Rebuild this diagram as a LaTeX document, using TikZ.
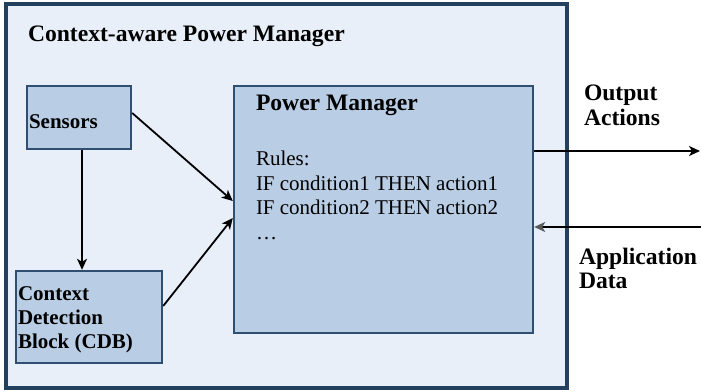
\documentclass[tikz,border=0pt]{standalone}
\usepackage{fontspec}
\setmainfont{Liberation Serif}
\usetikzlibrary{arrows.meta,calc}

\definecolor{frameblue}{HTML}{24405F}
\definecolor{panelbg}{HTML}{E8EFF8}
\definecolor{boxfill}{HTML}{B9CDE5}
\definecolor{boxline}{HTML}{2E4E72}
\definecolor{tipgray}{HTML}{5A5A5A}

\tikzset{
  block/.style={draw=boxline, fill=boxfill, line width=2.4pt, inner sep=0pt, rectangle},
  txt/.style={anchor=base west, inner sep=0pt, outer sep=0pt},
  bigbold/.style={font=\fontsize{23.6}{26}\selectfont\bfseries},
  smallbold/.style={font=\fontsize{21}{24}\selectfont\bfseries},
  plain/.style={font=\fontsize{21}{24}\selectfont},
  flow/.style={line width=1.8pt, -{Stealth[length=11pt,width=10pt,inset=3pt]}},
}

\begin{document}
\begin{tikzpicture}[x=1pt,y=-1pt]
\useasboundingbox (0,0) rectangle (701,391);

% enclosing panel
\draw[frameblue, fill=panelbg, line width=3.5pt] (6,4) rectangle (567,388);
\node[txt, bigbold] (title) at (28,41) {Context-aware Power Manager};

% blocks
\node[block, minimum width=104pt, minimum height=63pt] (sens) at (79,117.5) {};
\node[block, minimum width=146pt, minimum height=92pt] (cdb) at (89,317) {};
\node[block, minimum width=299pt, minimum height=247pt] (pm) at (383.5,209.5) {};

% block texts
\node[txt, smallbold] (senst) at (29,128) {Sensors};
\node[txt, smallbold] (cdb1) at (18,300) {Context};
\node[txt, smallbold] (cdb2) at (18,324) {Detection};
\node[txt, smallbold] (cdb3) at (18,348) {Block (CDB)};

\node[txt, bigbold] (pmt) at (256,110) {Power Manager};
\node[txt, plain] (r0) at (256,165) {Rules:};
\node[txt, plain] (r1) at (256,190) {IF condition1 THEN action1};
\node[txt, plain] (r2) at (256,214) {IF condition2 THEN action2};
\node[txt, plain] (r3) at (256,239) {…};

% external labels
\node[txt, bigbold] (out1) at (584,100) {Output};
\node[txt, bigbold] (out2) at (584,125) {Actions};
\node[txt, bigbold] (app1) at (579,264) {Application};
\node[txt, bigbold] (app2) at (579,288) {Data};

% end points outside the panel
\coordinate (outend) at (700,151);
\coordinate (instart) at (701,227);

% connectors
\draw[flow] ([yshift=4.5pt]sens.east) -- ([yshift=8.5pt]pm.west);
\draw[flow] ([yshift=11pt]cdb.east) -- ([yshift=-8.5pt]pm.west);
\draw[flow] ([xshift=3pt]sens.south) -- ([xshift=3pt]sens.south |- cdb.north);
\draw[flow] ([yshift=58.5pt]pm.east) -- (outend);
\draw[line width=1.8pt, -{Stealth[length=11pt,width=10pt,inset=3pt,color=tipgray]}]
  (instart) -- ([yshift=-17.5pt]pm.east);
\end{tikzpicture}
\end{document}
